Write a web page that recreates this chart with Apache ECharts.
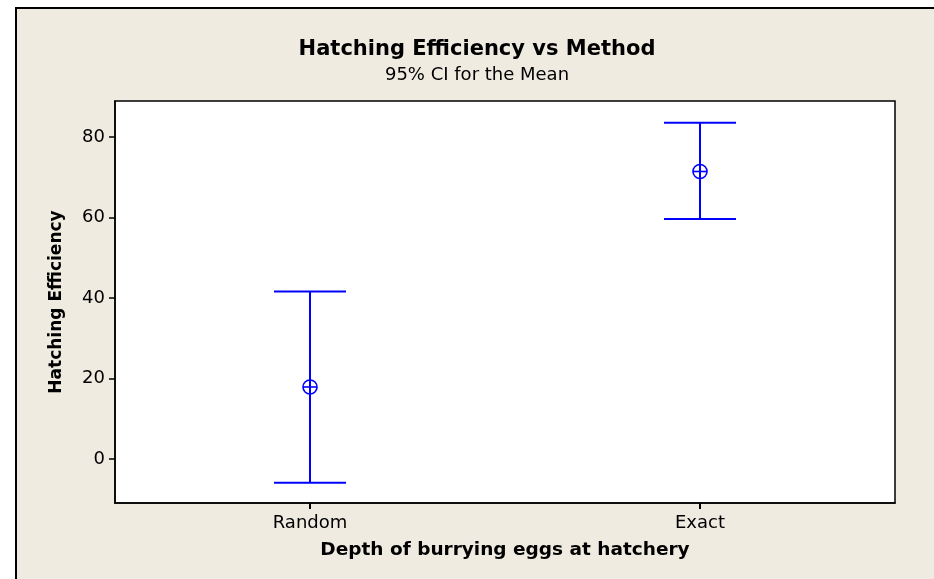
<!DOCTYPE html>
<html>
<head>
<meta charset="utf-8">
<script src="https://cdn.jsdelivr.net/npm/echarts@6/dist/echarts.min.js"></script>
<style>
  html, body { margin: 0; padding: 0; background: #fff; }
  #main { width: 934px; height: 579px; }
</style>
</head>
<body>
<div id="main"></div>
<script>
// 分组
var categories = ['Random', 'Exact'];
// 95% CI
var means = [17.9, 71.4];
var lowers = [-5.9, 59.6];
var uppers = [41.6, 83.5];
var yTicks = [0, 20, 40, 60, 80];

var chart = echarts.init(document.getElementById('main'), null, { renderer: 'canvas' });

var ciData = categories.map(function (c, i) {
  return [i, lowers[i], uppers[i], means[i]];
});

var font = 'DejaVu Sans';

function renderCI(params, api) {
  var x = api.value(0);
  var lo = api.coord([x, api.value(1)]);
  var hi = api.coord([x, api.value(2)]);
  var m = api.coord([x, api.value(3)]);
  var half = 36;
  var r = 7;
  var st = { stroke: '#0000ff', lineWidth: 2, fill: null };
  return {
    type: 'group',
    children: [
      { type: 'line', shape: { x1: hi[0], y1: hi[1], x2: lo[0], y2: lo[1] }, style: st },
      { type: 'line', shape: { x1: hi[0] - half, y1: hi[1], x2: hi[0] + half, y2: hi[1] }, style: st },
      { type: 'line', shape: { x1: lo[0] - half, y1: lo[1], x2: lo[0] + half, y2: lo[1] }, style: st },
      { type: 'circle', shape: { cx: m[0], cy: m[1], r: r }, style: { stroke: '#0000ff', lineWidth: 1.6, fill: 'rgba(0,0,0,0)' } },
      { type: 'line', shape: { x1: m[0] - r, y1: m[1], x2: m[0] + r, y2: m[1] }, style: { stroke: '#0000ff', lineWidth: 1.6 } }
    ]
  };
}

var option = {
  backgroundColor: '#ffffff',
  animation: false,
  graphic: [
    {
      type: 'rect',
      z: -10,
      shape: { x: 16, y: 8, width: 940, height: 600 },
      style: { fill: '#efebe1', stroke: '#000', lineWidth: 2 }
    }
  ],
  title: {
    text: 'Hatching Efficiency vs Method',
    subtext: '95% CI for the Mean',
    left: 472,
    top: 34,
    textAlign: 'center',
    itemGap: 6,
    textStyle: { fontFamily: font, fontWeight: 'bold', fontSize: 21, color: '#000' },
    subtextStyle: { fontFamily: font, fontSize: 18, color: '#000' }
  },
  grid: {
    left: 115,
    top: 101,
    right: 39,
    bottom: 76,
    show: true,
    borderColor: '#000',
    borderWidth: 1.5,
    backgroundColor: '#fff'
  },
  xAxis: {
    type: 'category',
    data: categories,
    boundaryGap: true,
    name: 'Depth of burrying eggs at hatchery',
    nameLocation: 'middle',
    nameGap: 38,
    nameTextStyle: { fontFamily: font, fontWeight: 'bold', fontSize: 18.5, color: '#000' },
    axisLine: { onZero: false, lineStyle: { color: '#000', width: 1.5 } },
    axisTick: { show: true, interval: 0, alignWithLabel: true, length: 6, lineStyle: { color: '#000', width: 2 } },
    axisLabel: { fontFamily: font, fontSize: 18, color: '#000', margin: 11 },
    splitLine: { show: false }
  },
  yAxis: {
    type: 'value',
    min: -10.9,
    max: 88.9,
    name: 'Hatching Efficiency',
    nameLocation: 'middle',
    nameGap: 50,
    nameTextStyle: { fontFamily: font, fontWeight: 'bold', fontSize: 17, color: '#000' },
    axisLine: { show: true, lineStyle: { color: '#000', width: 1.5 } },
    axisTick: { show: true, length: 6, customValues: yTicks, lineStyle: { color: '#000', width: 1.5 } },
    axisLabel: { fontFamily: font, fontSize: 18, color: '#000', margin: 10, customValues: yTicks },
    splitLine: { show: false }
  },
  series: [
    {
      type: 'custom',
      renderItem: renderCI,
      encode: { x: 0, y: [1, 2, 3] },
      data: ciData,
      z: 10
    }
  ]
};

chart.setOption(option);
</script>
</body>
</html>
